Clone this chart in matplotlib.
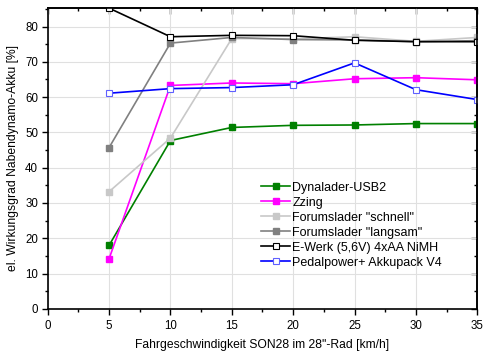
import matplotlib.pyplot as plt
import matplotlib.ticker as mticker

plt.rcParams['font.family'] = ['Liberation Sans', 'DejaVu Sans']

speed = [5, 10, 15, 20, 25, 30, 35]
dynalader = [18.0, 47.7, 51.4, 52.0, 52.1, 52.5, 52.5]
zzing = [14.2, 63.3, 64.0, 63.8, 65.2, 65.5, 64.9]
forum_schnell = [33.2, 48.4, 76.6, 76.5, 77.1, 75.8, 76.9]
forum_langsam = [45.7, 75.3, 76.9, 76.3, 76.2, 75.7, 76.0]
ewerk = [85.2, 77.1, 77.5, 77.4, 76.1, 75.7, 75.7]
pedalpower = [61.1, 62.4, 62.7, 63.5, 69.7, 62.1, 59.3]

fig, ax = plt.subplots(figsize=(4.87, 3.55), dpi=100)
fig.subplots_adjust(left=0.098, right=0.98, bottom=0.13, top=0.978)

ms = 4.3
ax.plot(speed, dynalader, color='#008000', marker='s', ms=ms, lw=1.2, label='Dynalader-USB2')
ax.plot(speed, zzing, color='#ff00ff', marker='s', ms=ms, lw=1.2, label='Zzing')
ax.plot(speed, forum_schnell, color='#c8c8c8', marker='s', ms=ms, lw=1.2, label='Forumslader "schnell"')
ax.plot(speed, forum_langsam, color='#808080', marker='s', ms=ms, lw=1.2, label='Forumslader "langsam"')
ax.plot(speed, ewerk, color='black', marker='s', ms=ms, lw=1.2, mfc='white', mec='black',
        mew=0.8, label='E-Werk (5,6V) 4xAA NiMH')
ax.plot(speed, pedalpower, color='#0000ff', marker='s', ms=ms, lw=1.2, mfc='white', mec='#6060ff',
        mew=0.8, label='Pedalpower+ Akkupack V4')

ax.set_xlim(0, 35)
ax.set_ylim(0, 85.3)

# bottom/left ticks out, top/right ticks in (Origin style)
top = ax.secondary_xaxis('top')
right = ax.secondary_yaxis('right')
for a in (ax.xaxis, top.xaxis):
    a.set_major_locator(mticker.MultipleLocator(5))
    a.set_minor_locator(mticker.MultipleLocator(2.5))
for a in (ax.yaxis, right.yaxis):
    a.set_major_locator(mticker.MultipleLocator(10))
    a.set_minor_locator(mticker.MultipleLocator(5))
ax.tick_params(which='both', direction='out', labelsize=8.3, width=1)
ax.tick_params(axis='x', which='major', length=4, pad=4)
ax.tick_params(axis='y', which='major', length=4, pad=3)
ax.tick_params(which='minor', length=2.5)
for sec in (top, right):
    sec.tick_params(which='both', direction='in', labeltop=False, labelright=False, width=1)
    sec.tick_params(which='major', length=4)
    sec.tick_params(which='minor', length=2.5)
    for s in sec.spines.values():
        s.set_linewidth(1.2)

ax.grid(True, which='major', color='#e0e0e0', lw=0.8)
ax.set_axisbelow(True)
for s in ax.spines.values():
    s.set_linewidth(1.2)

ax.set_xlabel('Fahrgeschwindigkeit SON28 im 28"-Rad [km/h]', fontsize=8.7, labelpad=5)
ax.set_ylabel('el. Wirkungsgrad Nabendynamo-Akku [%]', fontsize=8.7, labelpad=4)

ax.legend(loc='upper left', bbox_to_anchor=(0.497, 0.423), frameon=False, fontsize=9,
          borderpad=0, borderaxespad=0,
          handlelength=2.3, handletextpad=0.2, labelspacing=0.24)

plt.savefig('out.png', dpi=100)
